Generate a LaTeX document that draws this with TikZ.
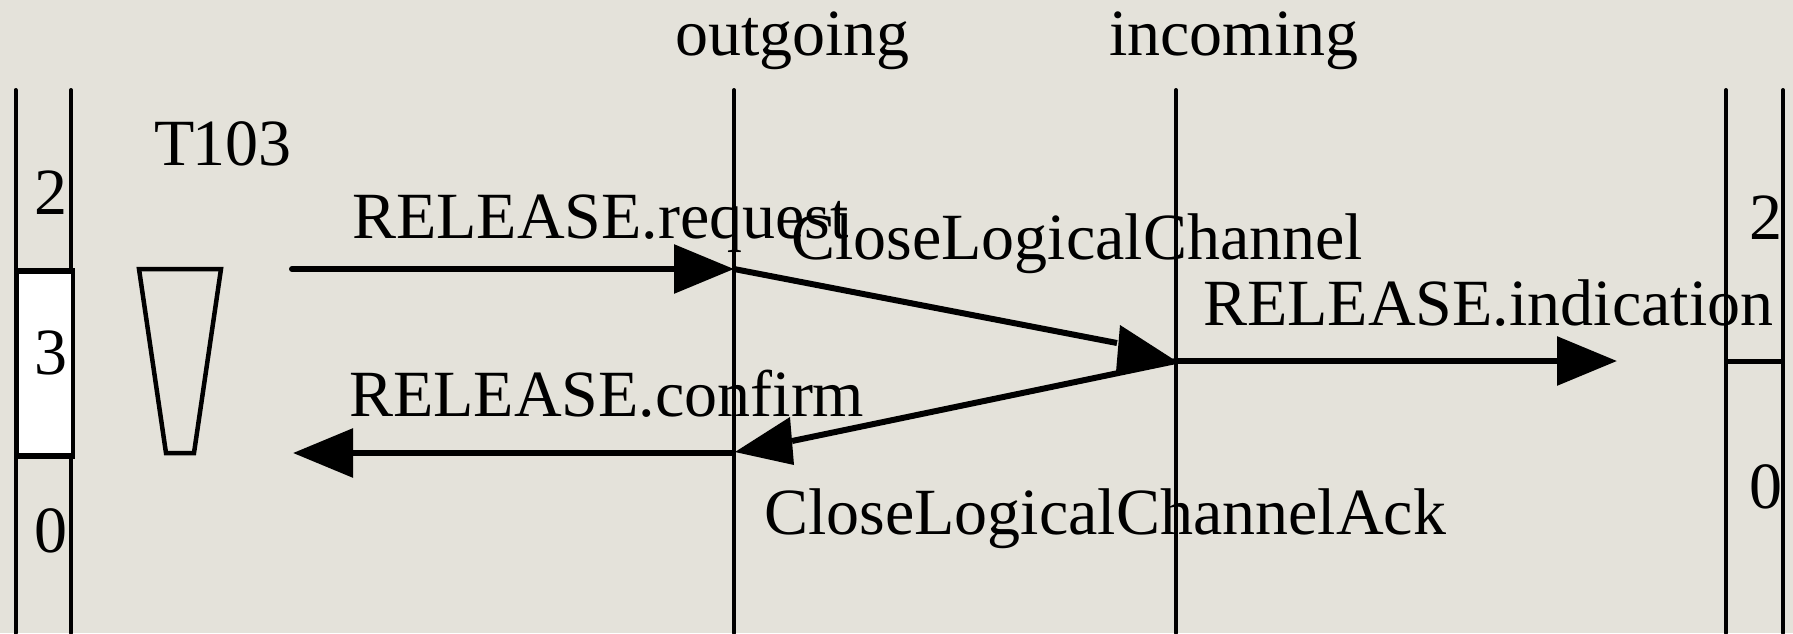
\documentclass[tikz,border=0pt]{standalone}
\usepackage{fontspec}
\setmainfont{Liberation Serif}
\usetikzlibrary{arrows.meta}
\definecolor{paper}{HTML}{E4E2DA}
\tikzset{lbl/.style={inner sep=0pt, anchor=base west, font=\fontsize{66}{70}\selectfont},
	lifeline/.style={line width=4pt, line cap=round},
	wire/.style={line width=6pt},
	msg/.style={wire, -{Triangle[length=60pt,width=48pt]}}}

\begin{document}
\begin{tikzpicture}[x=1pt,y=-1pt]
		\fill[paper] (0,0) rectangle (1793,633);
		\useasboundingbox (0,0) rectangle (1793,633);
		\coordinate (reqstart) at (292,269);
		\coordinate (outtop) at (734,269);
		\coordinate (intop) at (1176,361);
		\coordinate (indend) at (1617,361);
		\coordinate (outbot) at (734,453);
		\coordinate (cnfend) at (293,453);
		\coordinate (closeend) at (1117,343);
		\coordinate (ackend) at (792,441);
		\draw[lifeline] (15.5,90) -- (15.5,633);
		\draw[lifeline] (71,90) -- (71,633);
		\draw[lifeline] (734,90) -- (734,633);
		\draw[lifeline] (1176,90) -- (1176,633);
		\draw[lifeline] (1726,90) -- (1726,633);
		\draw[lifeline] (1783,90) -- (1783,633);
		\draw[line width=4pt,fill=white] (17,271) rectangle (73,456);
		\draw[line width=6pt] (15,271) -- (75,271);
		\draw[line width=6pt] (15,456) -- (75,456);
		\draw[line width=5pt] (1726,361) -- (1783,361);
		\draw[line width=4.5pt] (139,269) -- (221,269) -- (194,453) -- (166,453) -- cycle;
		\draw[msg,line cap=round] (reqstart) -- (outtop);
		\draw[wire] (outtop) -- (closeend);
		\fill (intop) -- (1120,325) -- (1116,372) -- cycle;
		\draw[msg] (intop) -- (indend);
		\draw[wire] (intop) -- (ackend);
		\fill (735,452) -- (790,417) -- (794,465) -- cycle;
		\draw[msg] (outbot) -- (cnfend);
		\node[lbl] (outgoing) at (675,55) {outgoing};
		\node[lbl] (incoming) at (1109,55) {incoming};
		\node[lbl] (timer) at (154,165) {T\kern-2pt 103};
		\node[lbl] (relreq) at (352,238) {RELEASE.request};
		\node[lbl] (closech) at (791,259) {CloseLogicalChannel};
		\node[lbl] (relind) at (1203,325) {RELEASE.indication};
		\node[lbl] (relcnf) at (349,416) {RELEASE.confirm};
		\node[lbl] (closeack) at (764,534) {CloseLogicalChannelAck};
		\node[lbl] (ltwo) at (34,214) {2};
		\node[lbl] (lthree) at (34,374) {3};
		\node[lbl] (lzero) at (34,552) {0};
		\node[lbl] (rtwo) at (1749,239) {2};
		\node[lbl] (rzero) at (1749,508) {0};
		\end{tikzpicture}
\end{document}
